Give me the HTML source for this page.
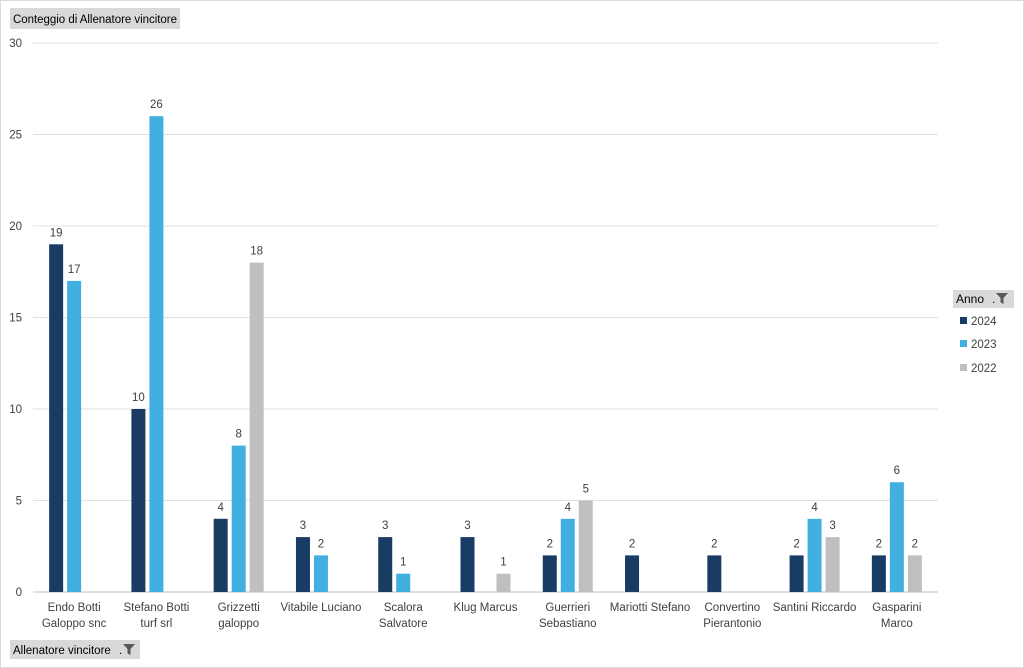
<!DOCTYPE html>
<html><head><meta charset="utf-8"><style>
html,body{margin:0;padding:0;background:#fff;}
svg{display:block;font-family:"Liberation Sans",sans-serif;}
</style></head><body>
<svg id="c" width="1024" height="668" xmlns="http://www.w3.org/2000/svg">
<rect x="0.5" y="0.5" width="1023" height="667" fill="#fff" stroke="#d9d9d9"/>
<rect x="10" y="8" width="170" height="21" fill="#d9d9d9"/>
<text x="13" y="23" font-size="11.5" fill="#000" textLength="164">Conteggio di Allenatore vincitore</text>
<rect x="10" y="640" width="130" height="19" fill="#d9d9d9"/>
<text x="13" y="654" font-size="11.5" fill="#000">Allenatore vincitore</text>
<text x="119" y="654" font-size="12" fill="#000">.</text>
<path d="M123 644 h12 l-4.5 5 v6 l-3 -1.5 v-4.5 z" fill="#595959"/>
<rect x="953" y="290" width="61" height="18" fill="#d9d9d9"/>
<text x="956" y="303" font-size="12" fill="#000">Anno</text>
<text x="992" y="303" font-size="12" fill="#000">.</text>
<path d="M996 293 h12 l-4.5 5 v6 l-3 -1.5 v-4.5 z" fill="#595959"/>
<rect x="960" y="317" width="7" height="7" fill="#193c64"/>
<text x="971" y="325" font-size="11.5" fill="#404040">2024</text>
<rect x="960" y="340" width="7" height="7" fill="#41b0e0"/>
<text x="971" y="348" font-size="11.5" fill="#404040">2023</text>
<rect x="960" y="364" width="7" height="7" fill="#bfbfbf"/>
<text x="971" y="372" font-size="11.5" fill="#404040">2022</text>
<g id="g"></g>
</svg>
<script>
var g=document.getElementById('g'),h='';
function Y(v){return 592-v*18.3;}
for(var i=0;i<=6;i++){var y=Y(i*5);h+='<line x1="33" x2="938" y1="'+y+'" y2="'+y+'" stroke="'+(i==0?'#bfbfbf':'#e0e0e0')+'"/>';
h+='<text x="22" y="'+(y+4)+'" font-size="11.5" fill="#404040" text-anchor="end">'+(i*5)+'</text>';}
var d=[[19,17,0],[10,26,0],[4,8,18],[3,2,0],[3,1,0],[3,0,1],[2,4,5],[2,0,0],[2,0,0],[2,4,3],[2,6,2]];
var L=[["Endo Botti","Galoppo snc"],["Stefano Botti","turf srl"],["Grizzetti","galoppo"],["Vitabile Luciano"],["Scalora","Salvatore"],["Klug Marcus"],["Guerrieri","Sebastiano"],["Mariotti Stefano"],["Convertino","Pierantonio"],["Santini Riccardo"],["Gasparini","Marco"]];
var col=['#193c64','#41b0e0','#bfbfbf'],off=[-25,-7,11],w=(938-33)/11;
for(var k=0;k<11;k++){var c=33+w*(k+0.5);
for(var s=0;s<3;s++){var v=d[k][s];if(!v)continue;var x=c+off[s];
h+='<rect x="'+x+'" y="'+Y(v)+'" width="14" height="'+(v*18.3)+'" fill="'+col[s]+'"/>';
h+='<text x="'+(x+7)+'" y="'+(Y(v)-8)+'" font-size="11.5" fill="#404040" text-anchor="middle">'+v+'</text>';}
for(var j=0;j<L[k].length;j++)h+='<text x="'+c+'" y="'+(611+j*16)+'" font-size="11.5" fill="#404040" text-anchor="middle">'+L[k][j]+'</text>';}
g.innerHTML=h;
</script>
</body></html>
